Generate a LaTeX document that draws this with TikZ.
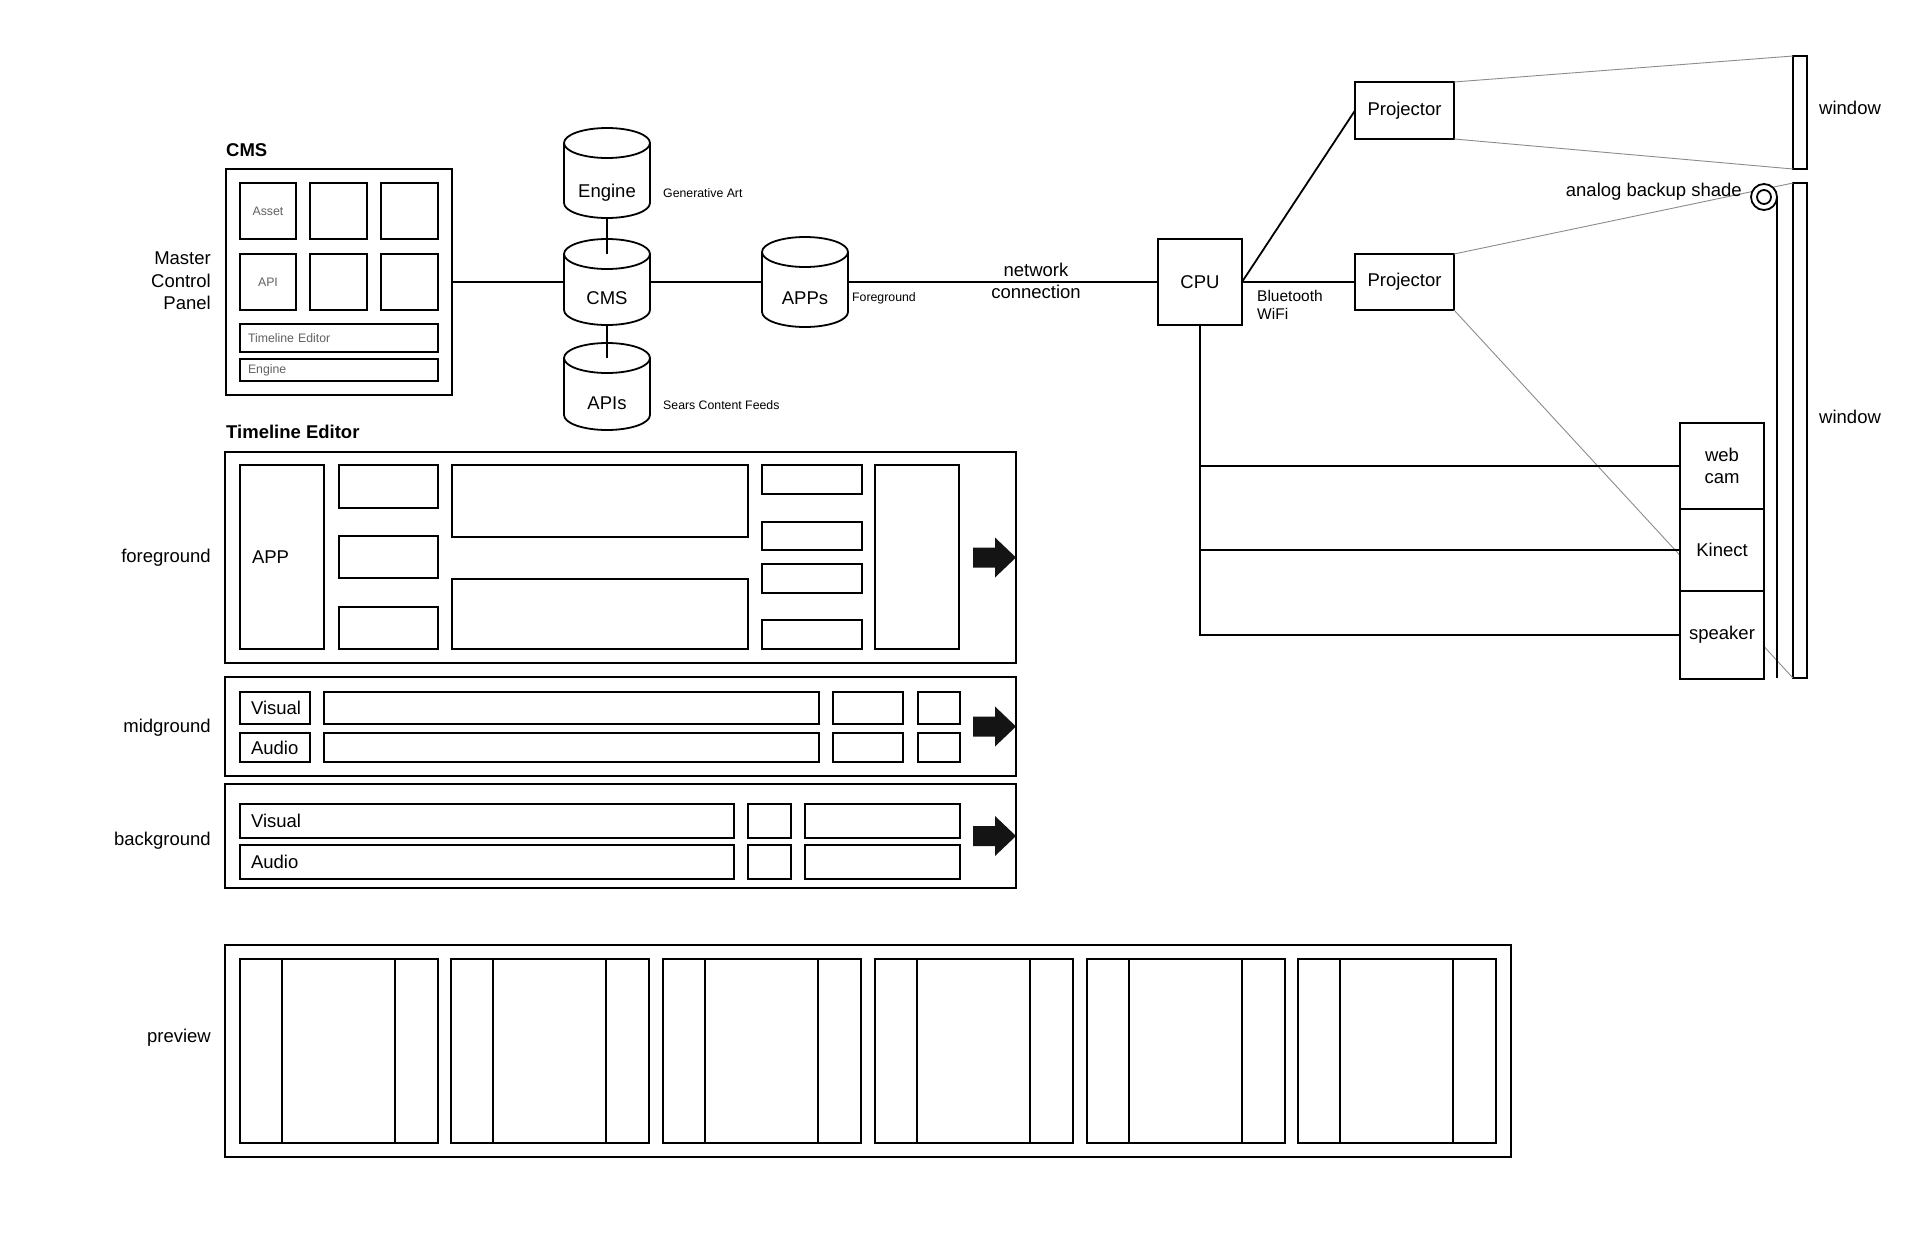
\documentclass[tikz,border=0pt]{standalone}
\usepackage{fontspec}
\setmainfont{Liberation Sans}
\tikzset{
 ln/.style={line width=1.8pt},
 bxs/.style={draw, line width=1.8pt, inner sep=0pt, outer sep=0pt, fill=white, font=\fontsize{18.5}{22.5}\selectfont},
 txt/.style={font=\fontsize{18.5}{22.5}\selectfont, inner sep=0pt, align=center},
 bold/.style={font=\fontsize{18.5}{22.5}\selectfont\bfseries, inner sep=0pt},
 sm/.style={font=\fontsize{12.3}{14}\selectfont, inner sep=0pt},
 smg/.style={font=\fontsize{12.3}{14}\selectfont, text=black!62},
 gl/.style={line width=0.9pt, draw=black!45},
}
\newcommand{\bx}[7][]{%
 \pgfmathsetmacro\bxw{#5-#3}\pgfmathsetmacro\bxh{#6-#4}%
 \pgfmathsetmacro\bxcx{(#3+#5)/2}\pgfmathsetmacro\bxcy{(#4+#6)/2}%
 \node[bxs, minimum width=\bxw pt, minimum height=\bxh pt, #1] (#2) at (\bxcx,\bxcy) {#7};}
\newcommand{\bxl}[8][]{%
 \pgfmathsetmacro\bxw{#5-#3}\pgfmathsetmacro\bxh{#6-#4}%
 \pgfmathsetmacro\bxcx{(#3+#5)/2}\pgfmathsetmacro\bxcy{(#4+#6)/2}%
 \pgfmathsetmacro\bxtw{#5-#3-2*#7}%
 \node[bxs, minimum width=\bxw pt, minimum height=\bxh pt, inner xsep=#7pt, text width=\bxtw pt, align=left, #1] (#2) at (\bxcx,\bxcy) {#8};}
\newcommand{\cyl}[7]{%
 \pgfmathsetmacro\bxw{#3-#2}\pgfmathsetmacro\bxh{#5-#4}%
 \pgfmathsetmacro\bxcx{(#2+#3)/2}\pgfmathsetmacro\bxcy{(#4+#5)/2}%
 \pgfmathsetmacro\cylr{(#3-#2)/2}%
 \node[inner sep=0pt, outer sep=0pt, minimum width=\bxw pt, minimum height=\bxh pt] (#1) at (\bxcx,\bxcy) {};
 \draw[ln, fill=white] ([yshift=-15pt]#1.north west) -- ([yshift=15pt]#1.south west)
   arc[start angle=180, end angle=360, x radius=\cylr pt, y radius=15pt]
   -- ([yshift=-15pt]#1.north east)
   arc[start angle=0, end angle=180, x radius=\cylr pt, y radius=15pt] -- cycle;
 \draw[ln] ([yshift=-15pt]#1.north west) arc[start angle=180, end angle=360, x radius=\cylr pt, y radius=15pt];
 \node[txt] (#1t) at ([yshift=-#7pt]#1.center) {#6};}
\newcommand{\arr}[1]{%
 \fill[black!92] (973,{#1-10}) -- (995,{#1-10}) -- (995,{#1-20}) -- (1016,#1) -- (995,{#1+20}) -- (995,{#1+10}) -- (973,{#1+10}) -- cycle;}

\begin{document}
\begin{tikzpicture}[x=1pt,y=-1pt]
\useasboundingbox (0,0) rectangle (1920,1242);
\fill[white] (0,0) rectangle (1920,1242);

% ---------- CMS panel
\node[bold, anchor=base west] (cmslbl) at (226,156) {CMS};
\bx{cmsp}{226}{169}{452}{395}{}
\bx[smg]{asset}{240}{183}{296}{239}{Asset}
\draw[ln] (310,183) rectangle (367,239);
\draw[ln] (381,183) rectangle (438,239);
\bx[smg]{api}{240}{254}{296}{310}{API}
\draw[ln] (310,254) rectangle (367,310);
\draw[ln] (381,254) rectangle (438,310);
\bxl[smg]{tled}{240}{324}{438}{352}{8}{Timeline Editor}
\bxl[smg]{engb}{240}{359}{438}{381}{8}{Engine}
\node[txt, align=right, anchor=east] (mcp) at (211,281) {Master\\Control\\Panel};

% ---------- cylinders
\cyl{engc}{564}{650}{128}{218}{Engine}{20}
\cyl{cmsc}{564}{650}{239}{325}{CMS}{16}
\cyl{appc}{762}{848}{237}{327}{APPs}{16}
\cyl{apic}{564}{650}{343}{430}{APIs}{17}
\draw[ln] (engc.south) -- ([yshift=-15pt]cmsc.north);
\draw[ln] (cmsc.south) -- ([yshift=-15pt]apic.north);
\node[sm, anchor=west] (genart) at (663,193) {Generative Art};
\node[sm, anchor=west] (fgtag) at (852,298) {Foreground};
\node[sm, anchor=west] (sears) at (663,405) {Sears Content Feeds};

% ---------- CPU and hardware
\bx{cpu}{1158}{239}{1242}{325}{CPU}
\draw[ln] (cmsp.east) -- (cmsc.west);
\draw[ln] (cmsc.east) -- (appc.west);
\draw[ln] (appc.east) -- (cpu.west);
\node[txt] (netc) at (1036,281) {network\\connection};

\bx{proj1}{1355}{82}{1454}{139}{Projector}
\bx{proj2}{1355}{254}{1454}{310}{Projector}
\draw[ln] (cpu.east) -- (proj1.west);
\draw[ln] (cpu.east) -- (proj2.west);
\node[font=\fontsize{15.5}{18}\selectfont, inner sep=0pt, align=left, anchor=west] (bt) at (1257,305) {Bluetooth\\WiFi};

\bx{win1}{1793}{56}{1807}{169}{}
\bx{win2}{1793}{183}{1807}{678}{}
\node[txt, anchor=west] (w1l) at (1819,108) {window};
\node[txt, anchor=west] (w2l) at (1819,417) {window};

\draw[gl] (proj1.north east) -- (win1.north west);
\draw[gl] (proj1.south east) -- (win1.south west);
\draw[gl] (proj2.north east) -- (win2.north west);
\draw[gl] (proj2.south east) -- (win2.south west);

\node[txt, anchor=east] (shl) at (1742,192) {analog backup shade};
\node[circle, draw, ln, fill=white, minimum size=26pt, inner sep=0pt, outer sep=0pt] (roll) at (1764,197) {};
\draw[ln] (roll.center) circle[radius=7pt];
\draw[ln] (roll.east) -- (roll.east |- win2.south);

\bx[align=center]{webcam}{1680}{423}{1764}{509}{web\\cam}
\bx{kinect}{1680}{509}{1764}{591}{Kinect}
\bx{spk}{1680}{591}{1764}{679}{speaker}
\draw[ln] (cpu.south) |- (spk.west);
\draw[ln] (cpu.south |- webcam.west) -- (webcam.west);
\draw[ln] (cpu.south |- kinect.west) -- (kinect.west);

% ---------- Timeline editor
\node[bold, anchor=base west] (tel) at (226,438) {Timeline Editor};
\node[txt, anchor=east] (fgl) at (211,558) {foreground};
\node[txt, anchor=east] (mgl) at (211,728) {midground};
\node[txt, anchor=east] (bgl) at (211,841) {background};
\node[txt, anchor=east] (pvl) at (211,1038) {preview};

\bx{fg}{225}{452}{1016}{663}{}
\bxl{app}{240}{465}{324}{649}{12}{APP}
\draw[ln] (339,465) rectangle (438,508);
\draw[ln] (339,536) rectangle (438,578);
\draw[ln] (339,607) rectangle (438,649);
\draw[ln] (452,465) rectangle (748,537);
\draw[ln] (452,579) rectangle (748,649);
\draw[ln] (762,465) rectangle (862,494);
\draw[ln] (762,522) rectangle (862,550);
\draw[ln] (762,564) rectangle (862,593);
\draw[ln] (762,620) rectangle (862,649);
\draw[ln] (875,465) rectangle (959,649);
\arr{557.5}

\bx{mg}{225}{677}{1016}{776}{}
\bxl{mgv}{240}{692}{310}{724}{11}{Visual}
\bxl{mga}{240}{733}{310}{762}{11}{Audio}
\draw[ln] (324,692) rectangle (819,724);
\draw[ln] (324,733) rectangle (819,762);
\draw[ln] (833,692) rectangle (903,724);
\draw[ln] (833,733) rectangle (903,762);
\draw[ln] (918,692) rectangle (960,724);
\draw[ln] (918,733) rectangle (960,762);
\arr{726.5}

\bx{bg}{225}{784}{1016}{888}{}
\bxl{bgv}{240}{804}{734}{838}{11}{Visual}
\bxl{bga}{240}{845}{734}{879}{11}{Audio}
\draw[ln] (748,804) rectangle (791,838);
\draw[ln] (748,845) rectangle (791,879);
\draw[ln] (805,804) rectangle (960,838);
\draw[ln] (805,845) rectangle (960,879);
\arr{836}

% ---------- preview
\bx{prev}{225}{945}{1511}{1157}{}
\foreach \x in {240,451,663,875,1087,1298}{
  \draw[ln] (\x,959) rectangle (\x+198,1143);
  \draw[ln] (\x+42,959) -- (\x+42,1143);
  \draw[ln] (\x+155,959) -- (\x+155,1143);
}
\end{tikzpicture}
\end{document}
